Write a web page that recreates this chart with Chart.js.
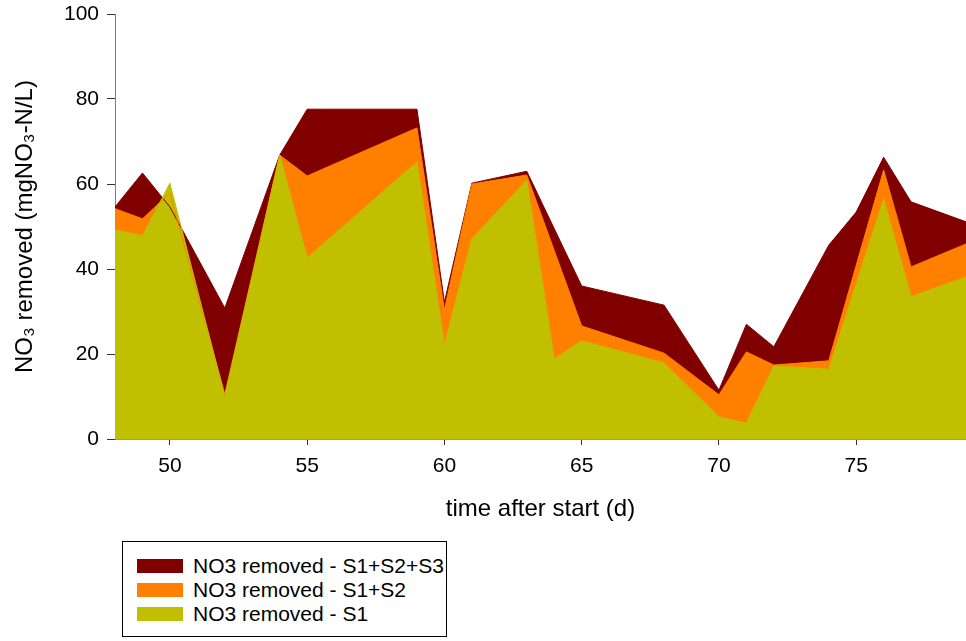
<!DOCTYPE html>
<html>
<head>
<meta charset="utf-8">
<title>NO3 removed</title>
<script src="https://cdn.jsdelivr.net/npm/chart.js@4.4.1/dist/chart.umd.min.js"></script>
<style>
    body { margin: 0; background: #fff; font-family: "Liberation Sans", Arial, sans-serif; }
    #wrap { position: relative; width: 966px; height: 641px; }
    #legend {
        position: absolute; left: 122px; top: 541px; width: 323px; height: 94px;
        border: 1px solid #000; background: #fff;
    }
    .item { position: absolute; left: 14px; height: 24px; font-size: 21px; line-height: 24px; color: #000; white-space: nowrap; }
    .item span.sw { position: absolute; left: 0; top: 5px; width: 46px; height: 14px; }
    .item span.tx { position: absolute; left: 56px; top: 0; }
</style>
</head>
<body>
<div id="wrap">
    <canvas id="no3Chart" width="966" height="641"></canvas>
    <div id="legend"></div>
</div>
<script>
// days and values
var daysS1 = [48, 49, 50, 52, 54, 55, 59, 60, 61, 63, 64, 65, 68, 70, 71, 72, 74, 76, 77, 79];
var removedS1 = [49.2, 47.8, 60.2, 10.0, 66.8, 42.6, 65.2, 22.1, 47.1, 60.9, 18.8, 23.1, 17.9, 5.2, 3.7, 17.2, 16.4, 56.5, 33.5, 38.1];

var daysS12 = [48, 49, 50, 52, 54, 55, 59, 60, 61, 63, 65, 68, 70, 71, 72, 74, 76, 77, 79];
var removedS12 = [54.2, 51.8, 57.9, 10.5, 66.8, 61.9, 73.2, 30.4, 60.0, 62.1, 26.6, 20.2, 10.4, 20.5, 17.4, 18.4, 63.3, 40.5, 45.9];

var daysS123 = [48, 49, 50, 52, 54, 55, 59, 60, 61, 63, 65, 68, 70, 71, 72, 74, 75, 76, 77, 79];
var removedS123 = [54.6, 62.6, 54.6, 30.8, 66.8, 77.6, 77.6, 32.2, 60.2, 63.0, 36.0, 31.5, 11.5, 27.0, 21.7, 45.6, 53.4, 66.3, 55.8, 51.1];

var seriesLabels = ['NO3 removed - S1', 'NO3 removed - S1+S2', 'NO3 removed - S1+S2+S3'];
var seriesColors = ['#C0C000', '#FF8000', '#800000'];

var xTicks = [50, 55, 60, 65, 70, 75];
var yTicks = [0, 20, 40, 60, 80, 100];

function toPoints(days, vals) {
    return days.map(function (d, i) { return { x: d, y: vals[i] }; });
}

var allDays = [daysS1, daysS12, daysS123];
var allVals = [removedS1, removedS12, removedS123];

var datasets = [];
for (var i = 0; i < 3; i++) {
    datasets.push({
        label: seriesLabels[i],
        data: toPoints(allDays[i], allVals[i]),
        backgroundColor: seriesColors[i],
        borderColor: seriesColors[i],
        borderWidth: 1,
        pointRadius: 0,
        tension: 0,
        fill: 'origin'
    });
}

var font = "'Liberation Sans', Arial, sans-serif";

var ctx = document.getElementById('no3Chart').getContext('2d');
var no3Chart = new Chart(ctx, {
    type: 'line',
    data: { datasets: datasets },
    options: {
        responsive: false,
        animation: false,
        devicePixelRatio: 1,
        layout: { padding: { top: 14, right: 0, bottom: 0, left: 0 } },
        plugins: {
            legend: { display: false },
            tooltip: { enabled: false },
            filler: { drawTime: 'beforeDatasetsDraw' }
        },
        scales: {
            x: {
                type: 'linear',
                min: 48,
                max: 79,
                afterFit: function (scale) {
                    scale.height = 202;
                    scale.paddingLeft = 0;
                    scale.paddingRight = 0;
                },
                afterBuildTicks: function (scale) {
                    scale.ticks = xTicks.map(function (v) { return { value: v }; });
                },
                grid: { drawOnChartArea: false, drawTicks: true, tickLength: 6, color: '#333' },
                border: { display: true, color: '#FF8000', width: 1 },
                ticks: { padding: 9, color: '#000', font: { family: font, size: 21 }, maxRotation: 0 },
                title: {
                    display: true,
                    text: 'time after start (d)',
                    color: '#000',
                    font: { family: font, size: 24 },
                    padding: { top: 0, bottom: 117 }
                }
            },
            y: {
                min: 0,
                max: 100,
                afterFit: function (scale) {
                    scale.width = 115;
                    scale.paddingTop = 0;
                    scale.paddingBottom = 0;
                },
                afterBuildTicks: function (scale) {
                    scale.ticks = yTicks.map(function (v) { return { value: v }; });
                },
                grid: { drawOnChartArea: false, drawTicks: true, tickLength: 8, color: '#333' },
                border: { display: true, color: '#808080', width: 1 },
                ticks: { padding: 8, color: '#000', font: { family: font, size: 21 } },
                title: {
                    display: true,
                    text: 'NO\u2083 removed (mgNO\u2083-N/L)',
                    color: '#000',
                    font: { family: font, size: 24 },
                    padding: { top: 11, bottom: 0 }
                }
            }
        }
    }
});

// legend box under the plot, top entry = last series
var legendBox = document.getElementById('legend');
for (var k = datasets.length - 1; k >= 0; k--) {
    var row = document.createElement('div');
    row.className = 'item';
    row.style.top = (12 + (datasets.length - 1 - k) * 24) + 'px';
    var sw = document.createElement('span');
    sw.className = 'sw';
    sw.style.background = datasets[k].backgroundColor;
    var tx = document.createElement('span');
    tx.className = 'tx';
    tx.textContent = datasets[k].label;
    row.appendChild(sw);
    row.appendChild(tx);
    legendBox.appendChild(row);
}
</script>
</body>
</html>
